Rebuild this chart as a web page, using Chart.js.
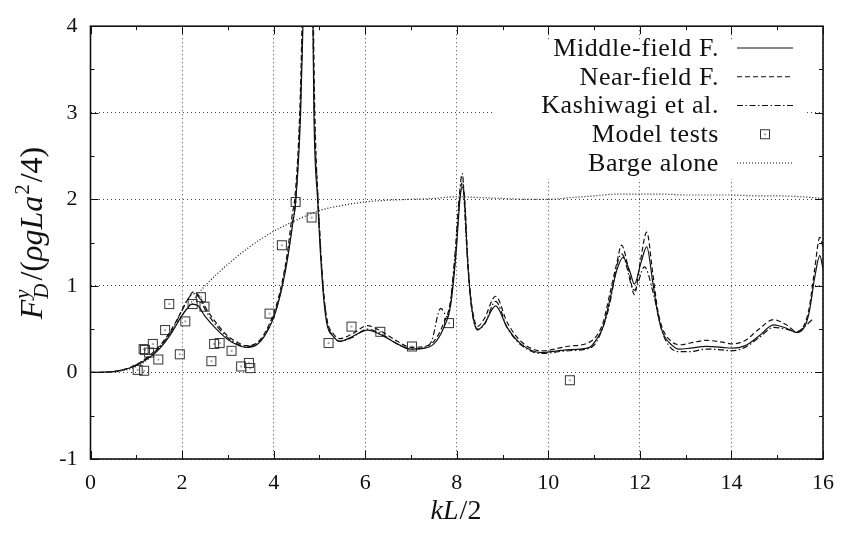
<!DOCTYPE html>
<html><head><meta charset="utf-8">
<script src="https://cdn.jsdelivr.net/npm/chart.js@4/dist/chart.umd.min.js"></script>
<style>html,body{margin:0;padding:0;background:#fff}</style>
</head><body>
<canvas id="c" width="845" height="533"></canvas>
<script>
// ---------------- data ----------------
const xTickValues = [0, 2, 4, 6, 8, 10, 12, 14, 16];
const yTickValues = [-1, 0, 1, 2, 3, 4];

const seriesLabels = ['Middle-field F.', 'Near-field F.', 'Kashiwagi et al.', 'Model tests', 'Barge alone'];

const middleX = [0,0.25,0.5,0.75,1.0,1.25,1.5,1.75,2.0,2.1,2.22,2.35,2.5,2.75,3.0,3.2,3.4,3.6,3.8,4.0,4.1,4.2,4.3,4.42,4.48,4.59,4.64,4.75,4.86,4.88,4.96,5.07,5.16,5.3,5.45,5.7,6.05,6.4,6.7,7.0,7.3,7.5,7.7,7.87,7.98,8.07,8.12,8.18,8.23,8.3,8.38,8.45,8.6,8.85,9.1,9.4,9.85,10.4,10.9,11.05,11.2,11.34,11.49,11.63,11.78,11.88,12.03,12.15,12.28,12.39,12.5,12.71,12.86,13.1,13.44,13.8,14.02,14.3,14.6,14.92,15.2,15.43,15.6,15.7,15.82,15.93,16];
const middleY = [0,0.002,0.01,0.035,0.08,0.16,0.27,0.44,0.66,0.73,0.79,0.77,0.65,0.5,0.38,0.32,0.29,0.31,0.42,0.63,0.8,1.02,1.3,1.73,1.96,3.0,4.0,7.5,4.0,3.0,2.0,1.0,0.57,0.42,0.36,0.41,0.49,0.42,0.33,0.27,0.28,0.33,0.5,0.79,1.35,2.0,2.14,1.9,1.35,0.87,0.58,0.49,0.56,0.77,0.52,0.33,0.23,0.26,0.29,0.38,0.53,0.83,1.17,1.33,1.17,1.02,1.28,1.45,1.05,0.68,0.46,0.31,0.27,0.28,0.3,0.29,0.28,0.31,0.42,0.55,0.51,0.46,0.53,0.7,1.1,1.35,1.2];

const nearX = [0,0.5,1.0,1.25,1.5,1.75,2.0,2.12,2.25,2.38,2.5,2.75,3.0,3.2,3.4,3.6,3.8,4.0,4.1,4.2,4.3,4.4,4.47,4.57,4.62,4.75,4.87,4.9,4.97,5.08,5.17,5.3,5.45,5.7,6.05,6.4,6.7,7.0,7.3,7.5,7.7,7.87,7.98,8.07,8.12,8.18,8.23,8.3,8.38,8.45,8.6,8.85,9.1,9.4,9.85,10.4,10.9,11.05,11.2,11.34,11.49,11.6,11.75,11.88,12.0,12.15,12.28,12.39,12.5,12.71,12.9,13.1,13.44,13.8,14.02,14.3,14.6,14.92,15.2,15.43,15.6,15.7,15.82,15.93,16];
const nearY = [0,0.01,0.09,0.18,0.3,0.48,0.72,0.84,0.93,0.88,0.76,0.57,0.42,0.35,0.31,0.33,0.45,0.68,0.85,1.08,1.38,1.8,2.05,3.0,4.0,7.8,4.0,3.0,2.0,1.0,0.6,0.45,0.39,0.44,0.54,0.46,0.36,0.29,0.3,0.36,0.55,0.84,1.4,2.05,2.2,1.95,1.4,0.9,0.62,0.53,0.62,0.88,0.58,0.36,0.25,0.3,0.35,0.42,0.58,0.9,1.25,1.47,1.2,0.9,1.25,1.62,1.15,0.72,0.5,0.35,0.32,0.34,0.37,0.35,0.33,0.37,0.5,0.61,0.55,0.47,0.56,0.75,1.2,1.56,1.45];

const kashiX = [0.95,1.25,1.5,1.75,2.0,2.12,2.25,2.38,2.5,2.75,3.0,3.2,3.4,3.6,3.8,4.0,4.1,4.2,4.3,4.42,4.48,4.58,4.63,4.75,4.86,4.89,4.97,5.08,5.17,5.3,5.45,5.7,6.05,6.4,6.7,7.0,7.3,7.45,7.65,7.8,7.95,8.05,8.12,8.2,8.3,8.45,8.6,8.85,9.1,9.4,9.85,10.4,10.9,11.05,11.3,11.6,11.88,12.1,12.3,12.5,12.86,13.1,13.44,13.8,14.0,14.3,14.6,14.92,15.2,15.43,15.6,15.78];
const kashiY = [0.07,0.17,0.29,0.46,0.72,0.84,0.91,0.86,0.73,0.54,0.4,0.33,0.3,0.32,0.43,0.65,0.82,1.05,1.33,1.75,1.98,3.0,4.0,7.6,4.0,3.0,2.0,1.0,0.58,0.42,0.36,0.4,0.5,0.43,0.33,0.27,0.29,0.36,0.74,0.64,1.3,2.0,2.3,1.6,0.85,0.5,0.55,0.82,0.52,0.32,0.22,0.25,0.28,0.35,0.7,1.37,0.95,1.22,0.9,0.45,0.24,0.24,0.27,0.26,0.25,0.29,0.4,0.52,0.5,0.47,0.53,0.62];

const testX = [1.03,1.17,1.16,1.19,1.28,1.36,1.48,1.63,1.72,1.95,2.07,2.23,2.41,2.49,2.64,2.70,2.82,3.08,3.29,3.46,3.49,3.91,4.18,4.48,4.83,5.20,5.70,6.33,7.02,7.83,10.47];
const testY = [0.03,0.02,0.27,0.26,0.23,0.33,0.15,0.49,0.79,0.21,0.59,0.79,0.87,0.76,0.13,0.33,0.34,0.25,0.07,0.11,0.05,0.68,1.47,1.97,1.79,0.34,0.53,0.47,0.30,0.57,-0.09];

const bargeX = [0,0.5,0.75,1.0,1.25,1.5,1.75,2.0,2.25,2.5,2.75,3.0,3.5,4.0,4.5,5.0,5.5,6.0,6.5,7.0,7.5,8.0,8.5,9.0,9.5,10.0,10.5,11.0,11.5,12.0,12.5,13.0,13.5,14.0,14.5,15.0,15.5,16.0];
const bargeY = [0,0.005,0.025,0.07,0.15,0.28,0.45,0.66,0.84,1.0,1.13,1.25,1.46,1.63,1.76,1.87,1.93,1.97,1.99,2.0,2.01,2.03,2.02,2.01,2.0,2.0,2.02,2.04,2.06,2.06,2.06,2.05,2.05,2.05,2.04,2.04,2.03,2.01];

// ---------------- helpers ----------------
const SERIF = '"Liberation Serif", "DejaVu Serif", serif';
const zip = (xs, ys) => xs.map((x, i) => ({x, y: ys[i]}));

function squareMarker() {
  const c = document.createElement('canvas');
  c.width = 12; c.height = 12;
  const g = c.getContext('2d');
  g.strokeStyle = '#333'; g.lineWidth = 1;
  g.strokeRect(1.5, 1.5, 9, 9);
  g.fillStyle = '#333'; g.fillRect(5.4, 5.4, 1.3, 1.3);
  return c;
}
const marker = squareMarker();

function lineDs(label, data, dash) {
  return {label, data, showLine: true, borderColor: '#111', borderWidth: 1.2,
    borderDash: dash, pointRadius: 0, cubicInterpolationMode: 'monotone', fill: false};
}

const datasets = [
  lineDs(seriesLabels[0], zip(middleX, middleY), []),
  lineDs(seriesLabels[1], zip(nearX, nearY), [5, 3]),
  lineDs(seriesLabels[2], zip(kashiX, kashiY), [6, 2.5, 1.5, 2.5]),
  {label: seriesLabels[3], data: zip(testX, testY), showLine: false, pointStyle: marker, pointRadius: 6},
  lineDs(seriesLabels[4], zip(bargeX, bargeY), [1, 2])
];

function drawRich(ctx, segs, cx, baseY) {
  let total = 0;
  const widths = segs.map(s => {
    if (s.stack) {
      const w = Math.max(...s.stack.map(p => { ctx.font = p.f; return ctx.measureText(p.t).width; }));
      total += w + (s.gap || 0); return w + (s.gap || 0);
    }
    ctx.font = s.f; const w = ctx.measureText(s.t).width + (s.gap || 0); total += w; return w;
  });
  let x = cx - total / 2;
  ctx.textAlign = 'left'; ctx.textBaseline = 'alphabetic';
  segs.forEach((s, i) => {
    if (s.stack) {
      s.stack.forEach(p => { ctx.font = p.f; ctx.fillText(p.t, x + (p.dx || 0), baseY + (p.dy || 0)); });
    } else {
      ctx.font = s.f; ctx.fillText(s.t, x + (s.dx || 0), baseY + (s.dy || 0));
    }
    x += widths[i];
  });
}

const framePlugin = {
  id: 'gnuframe',
  afterDatasetsDraw(chart) {
    const {ctx, chartArea: a, scales: {x, y}} = chart;
    ctx.save();
    // opaque key box
    ctx.fillStyle = '#fff';
    ctx.fillRect(492, 41, 313, 138);
    // key entries
    chart.data.datasets.forEach((ds, i) => {
      const ry = 48 + i * 28.75;
      ctx.fillStyle = '#111';
      ctx.font = '26px ' + SERIF;
      if ('letterSpacing' in ctx) ctx.letterSpacing = '0.6px';
      ctx.textAlign = 'right'; ctx.textBaseline = 'middle';
      ctx.fillText(ds.label, 719, ry + 1);
      if ('letterSpacing' in ctx) ctx.letterSpacing = '0px';
      if (ds.showLine === false) {
        ctx.drawImage(ds.pointStyle, 765 - 6, ry - 6);
      } else {
        ctx.strokeStyle = '#111'; ctx.lineWidth = 1.2;
        ctx.setLineDash(ds.borderDash);
        ctx.beginPath(); ctx.moveTo(737, ry); ctx.lineTo(793, ry); ctx.stroke();
        ctx.setLineDash([]);
      }
    });
    // tick marks (inward, mirrored)
    ctx.strokeStyle = '#111'; ctx.lineWidth = 1;
    ctx.beginPath();
    for (let v = 0; v <= 16; v += 1) {
      const px = Math.round(x.getPixelForValue(v)) + 0.5;
      const len = v % 2 === 0 ? 8 : 4;
      ctx.moveTo(px, a.bottom); ctx.lineTo(px, a.bottom - len);
      ctx.moveTo(px, a.top); ctx.lineTo(px, a.top + len);
    }
    for (let v = -1; v <= 4.001; v += 0.5) {
      const py = Math.round(y.getPixelForValue(v)) + 0.5;
      const len = Math.abs(v - Math.round(v)) < 1e-6 ? 8 : 4;
      ctx.moveTo(a.left, py); ctx.lineTo(a.left + len, py);
      ctx.moveTo(a.right, py); ctx.lineTo(a.right - len, py);
    }
    ctx.stroke();
    // border
    ctx.lineWidth = 1.6;
    ctx.strokeRect(a.left, a.top, a.right - a.left, a.bottom - a.top);
    // axis titles
    ctx.fillStyle = '#111';
    drawRich(ctx, [
      {t: 'k', f: 'italic 28px ' + SERIF},
      {t: 'L', f: 'italic 28px ' + SERIF, gap: 1},
      {t: '/2', f: '28px ' + SERIF}
    ], 456, 519);
    ctx.translate(31, 233);
    ctx.rotate(-Math.PI / 2);
    drawRich(ctx, [
      {t: 'F', f: 'italic 32px ' + SERIF, gap: 1},
      {stack: [{t: 'y', f: 'italic 21px ' + SERIF, dy: -13}, {t: 'D', f: 'italic 21px ' + SERIF, dy: 6}], gap: 3},
      {t: '/(', f: '32px ' + SERIF},
      {t: 'ρgLa', f: 'italic 32px ' + SERIF, gap: 1},
      {t: '2', f: '21px ' + SERIF, dy: -13, gap: 2},
      {t: '/4)', f: '32px ' + SERIF}
    ], 0, 11);
    ctx.restore();
  }
};

new Chart(document.getElementById('c'), {
  type: 'scatter',
  data: {datasets},
  options: {
    responsive: false,
    animation: false,
    layout: {padding: {left: 0, right: 17, top: 14, bottom: 0}},
    plugins: {legend: {display: false}, tooltip: {enabled: false}},
    scales: {
      x: {
        type: 'linear', min: 0, max: 16,
        afterFit: s => { s.height = 74; },
        afterBuildTicks: s => { s.ticks = xTickValues.map(v => ({value: v})); },
        ticks: {font: {family: SERIF, size: 22}, color: '#111', padding: 11},
        grid: {color: '#444', lineWidth: 1, drawTicks: false},
        border: {display: false, dash: [1, 3]}
      },
      y: {
        type: 'linear', min: -1, max: 4,
        afterFit: s => { s.width = 90.5; },
        afterBuildTicks: s => { s.ticks = yTickValues.map(v => ({value: v})); },
        ticks: {font: {family: SERIF, size: 22}, color: '#111', padding: 13},
        grid: {color: '#444', lineWidth: 1, drawTicks: false},
        border: {display: false, dash: [1, 3]}
      }
    }
  },
  plugins: [framePlugin]
});
</script>
</body></html>
